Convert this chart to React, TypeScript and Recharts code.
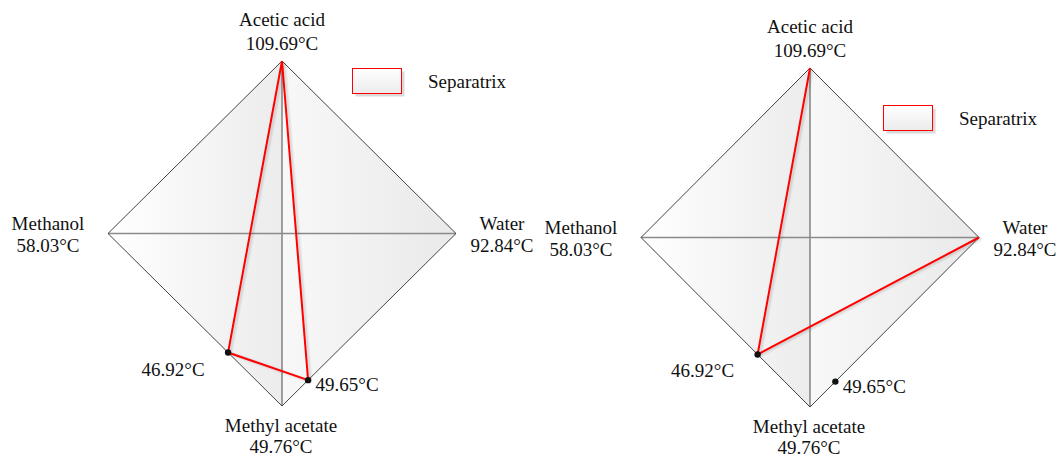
import React from 'react';
import { Area, ComposedChart, Legend, Line, Scatter, XAxis, YAxis } from 'recharts';

// Pure components at the corners of the projected tetrahedron
const vertexNames = ['Acetic acid', 'Water', 'Methyl acetate', 'Methanol'];
const vertexTemps = ['109.69°C', '92.84°C', '49.76°C', '58.03°C'];
const vertexX = [0, 1, 0, -1];
const vertexY = [1, 0, -1, 0];

// Azeotropes
const azeoTemps = ['46.92°C', '49.65°C'];
const azeoX = [-0.31, 0.15];
const azeoY = [-0.69, -0.85];

// Separatrix paths, as sequences of node labels
const separatrixLeft = ['Acetic acid', '46.92°C', '49.65°C', 'Acetic acid'];
const separatrixRight = ['Acetic acid', '46.92°C', 'Water'];

const FONT = '"Liberation Serif", "Times New Roman", serif';
const FONT_SIZE = 19;

// label placement relative to the node, [dx, baseline dy per line]
const labelOffsets: Record<string, { dx: number; dy: number[] }> = {
  'Acetic acid': { dx: 0, dy: [-35, -11] },
  Water: { dx: 46, dy: [-4, 18] },
  'Methyl acetate': { dx: -1, dy: [26, 47] },
  Methanol: { dx: -60, dy: [-4, 18] },
  '46.92°C': { dx: -55, dy: [23] },
  '49.65°C': { dx: 39, dy: [11] },
};

const vertices = vertexNames.map((name, i) => ({ name, temp: vertexTemps[i], x: vertexX[i], y: vertexY[i] }));
const azeotropes = azeoTemps.map((name, i) => ({ name, temp: '', x: azeoX[i], y: azeoY[i] }));
const nodes = [...vertices, ...azeotropes];
const node = (name: string) => nodes.find((n) => n.name === name)!;

const top = node('Acetic acid');
const bottom = node('Methyl acetate');
const left = node('Methanol');
const right = node('Water');

const outline = [top, right, bottom, left, top].map(({ x, y }) => ({ x, y }));
const horizontalEdge = [left, right].map(({ x, y }) => ({ x, y }));
const verticalEdge = [top, bottom].map(({ x, y }) => ({ x, y }));
const leftFace = [
  { x: left.x, y: [left.y, left.y] },
  { x: top.x, y: [bottom.y, top.y] },
];
const rightFace = [
  { x: top.x, y: [bottom.y, top.y] },
  { x: right.x, y: [right.y, right.y] },
];

function NodeLabel(props: any) {
  const { cx, cy, payload } = props;
  const off = labelOffsets[payload.name];
  const lines = payload.temp ? [payload.name, payload.temp] : [payload.name];
  return (
    <g>
      {lines.map((t: string, i: number) => (
        <text
          key={t}
          x={cx + off.dx}
          y={cy + off.dy[i]}
          textAnchor="middle"
          fontFamily={FONT}
          fontSize={FONT_SIZE}
          fill="#111"
        >
          {t}
        </text>
      ))}
    </g>
  );
}

function SeparatrixKey() {
  return (
    <svg width={170} height={32} style={{ display: 'block' }}>
      <defs>
        <linearGradient id="keyFill" x1="0" y1="0" x2="0" y2="1">
          <stop offset="0%" stopColor="#ffffff" />
          <stop offset="100%" stopColor="#ebebeb" />
        </linearGradient>
      </defs>
      <rect x={3.5} y={3.5} width={49} height={25} fill="#d9d9d9" />
      <rect x={0.5} y={0.5} width={49} height={25} fill="url(#keyFill)" stroke="#ff0000" strokeWidth={1} />
      <text x={76} y={20} fontFamily={FONT} fontSize={FONT_SIZE} fill="#111">
        Separatrix
      </text>
    </svg>
  );
}

function Diagram({
  id,
  path,
  x,
  width,
  margin,
  legendPos,
}: {
  id: string;
  path: string[];
  x: number;
  width: number;
  margin: { top: number; right: number; bottom: number; left: number };
  legendPos: { left: number; top: number };
}) {
  const separatrix = path.map((n) => ({ x: node(n).x, y: node(n).y }));
  return (
    <div style={{ position: 'absolute', left: x, top: 0 }}>
      <ComposedChart width={width} height={457} margin={margin}>
        <defs>
          <linearGradient id={`${id}-left`} x1="0" y1="0" x2="1" y2="0">
            <stop offset="0%" stopColor="#ffffff" />
            <stop offset="100%" stopColor="#ececec" />
          </linearGradient>
          <linearGradient id={`${id}-right`} x1="0" y1="0" x2="1" y2="0">
            <stop offset="0%" stopColor="#f8f8f8" />
            <stop offset="100%" stopColor="#e9e9e9" />
          </linearGradient>
        </defs>
        <XAxis type="number" dataKey="x" domain={[-1, 1]} hide />
        <YAxis type="number" dataKey="y" domain={[-1, 1]} hide width={0} />
        <Area data={leftFace} dataKey="y" type="linear" stroke="none" fill={`url(#${id}-left)`} fillOpacity={1} isAnimationActive={false} />
        <Area data={rightFace} dataKey="y" type="linear" stroke="none" fill={`url(#${id}-right)`} fillOpacity={1} isAnimationActive={false} />
        <Line data={horizontalEdge} dataKey="y" type="linear" stroke="#8a8a8a" strokeWidth={1.6} dot={false} isAnimationActive={false} />
        <Line data={verticalEdge} dataKey="y" type="linear" stroke="#8a8a8a" strokeWidth={1.6} dot={false} isAnimationActive={false} />
        <Line data={outline} dataKey="y" type="linear" stroke="#444" strokeWidth={1} dot={false} isAnimationActive={false} />
        <Line
          data={separatrix}
          dataKey="y"
          type="linear"
          stroke="#ff0000"
          strokeWidth={2}
          dot={false}
          isAnimationActive={false}
          style={{ filter: 'drop-shadow(2px 1px 1px rgba(0,0,0,0.18))' }}
        />
        <Scatter data={azeotropes} dataKey="y" fill="#111" isAnimationActive={false}
          shape={(p: any) => <circle cx={p.cx} cy={p.cy} r={3.2} fill="#111" />} />
        <Scatter data={nodes} dataKey="y" isAnimationActive={false} shape={(p: any) => <NodeLabel {...p} />} />
        <Legend
          layout="vertical"
          align="center"
          verticalAlign="middle"
          wrapperStyle={{ left: legendPos.left, top: legendPos.top, width: 'auto', height: 'auto' }}
          content={() => <SeparatrixKey />}
        />
      </ComposedChart>
    </div>
  );
}

export default function App() {
  return (
    <div style={{ position: 'absolute', left: 0, top: 0, width: 1057, height: 457, background: '#fff' }}>
      <Diagram
        id="a"
        path={separatrixLeft}
        x={0}
        width={545}
        margin={{ top: 61, right: 89, bottom: 51, left: 108 }}
        legendPos={{ left: 352, top: 68 }}
      />
      <Diagram
        id="b"
        path={separatrixRight}
        x={528}
        width={529}
        margin={{ top: 68, right: 78, bottom: 50, left: 113 }}
        legendPos={{ left: 355, top: 105 }}
      />
    </div>
  );
}
